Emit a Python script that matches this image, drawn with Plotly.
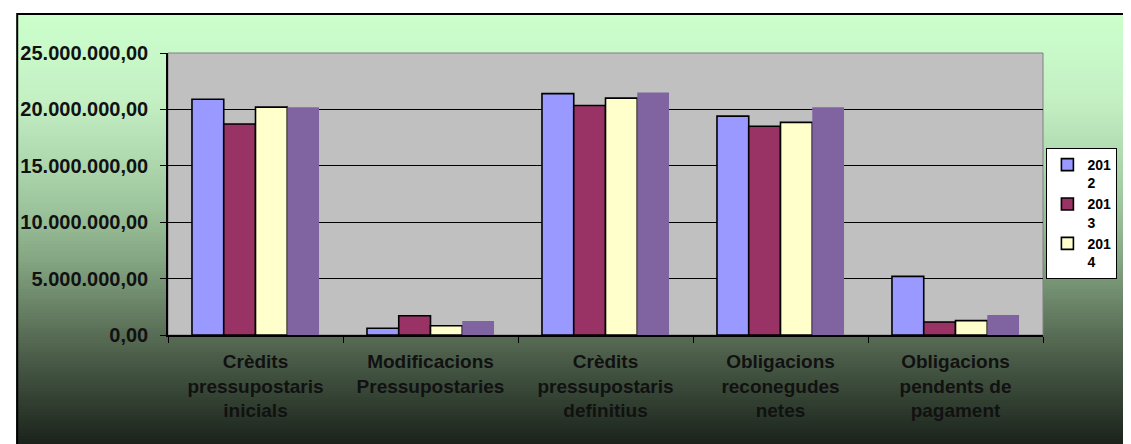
import plotly.graph_objects as go

categories = ["Crèdits<br>pressupostaris<br>inicials",
              "Modificacions<br>Pressupostaries",
              "Crèdits<br>pressupostaris<br>definitius",
              "Obligacions<br>reconegudes<br>netes",
              "Obligacions<br>pendents de<br>pagament"]
series_names = ["201<br>2", "201<br>3", "201<br>4", "2015"]
v2012 = [20.9e6, 0.6e6, 21.4e6, 19.4e6, 5.2e6]
v2013 = [18.7e6, 1.7e6, 20.35e6, 18.5e6, 1.15e6]
v2014 = [20.2e6, 0.82e6, 21.0e6, 18.85e6, 1.27e6]
v2015 = [20.2e6, 1.24e6, 21.5e6, 20.2e6, 1.77e6]
y_ticks = [0, 5e6, 10e6, 15e6, 20e6, 25e6]

colors = ["#9999FF", "#993366", "#FFFFCC", "#8064A2"]
OFF = 8  # page body margin
W, H = 1131 - OFF, 444 - OFF
L, T = 161 - OFF, 53 - OFF
PW, PH = 882, 282
R = W - L - PW
B = H - T - PH

def px_x(px):  # page pixel -> paper
    return (px - OFF - L) / PW

def px_y(py):
    return (T + PH - (py - OFF)) / PH

fig = go.Figure()
for i, (name, vals) in enumerate(zip(series_names, [v2012, v2013, v2014, v2015])):
    fig.add_trace(go.Bar(
        x=categories, y=vals, name=name,
        marker=dict(color=colors[i],
                    line=dict(color="black", width=1.6 if i < 3 else 0)),
        showlegend=(i < 3),
    ))

# background gradient (styling)
stops = [(13, (204, 255, 204)), (100, (196, 240, 196)), (200, (160, 200, 160)),
         (260, (132, 166, 130)), (335, (88, 108, 85)), (400, (50, 64, 50)),
         (450, (24, 30, 24))]

def col_at(py):
    for (y0, c0), (y1, c1) in zip(stops[:-1], stops[1:]):
        if y0 <= py <= y1:
            t = (py - y0) / (y1 - y0)
            return "rgb(%d,%d,%d)" % tuple(round(a + (b - a) * t) for a, b in zip(c0, c1))
    return "rgb(24,30,24)"

shapes = []
step = 3
py = 13
while py < 450:
    shapes.append(dict(type="rect", xref="paper", yref="paper", layer="below",
                       x0=px_x(8), x1=px_x(1140), y0=px_y(min(py + step + 0.5, 450)), y1=px_y(py),
                       fillcolor=col_at(py + step / 2), line=dict(width=0)))
    py += step
# frame
shapes.append(dict(type="rect", xref="paper", yref="paper", layer="below",
                   x0=px_x(9), x1=px_x(1140), y0=px_y(450), y1=px_y(14),
                   fillcolor="rgba(0,0,0,0)", line=dict(color="black", width=2)))
# plot area
shapes.append(dict(type="rect", xref="x domain", yref="y domain", layer="below",
                   x0=0, x1=1, y0=0, y1=1, fillcolor="#C0C0C0",
                   line=dict(color="#808080", width=1)))

font_family = "Liberation Sans, Arial, sans-serif"
fig.update_layout(
    width=W, height=H,
    margin=dict(l=L, r=R, t=T, b=B, pad=0),
    paper_bgcolor="white",
    plot_bgcolor="#C0C0C0",
    barmode="group",
    bargap=0.274,
    bargroupgap=0,
    separators=",.",
    shapes=shapes,
    font=dict(family=font_family, color="black"),
    legend=dict(x=px_x(1118), y=px_y(148), xanchor="right", yanchor="top",
                bgcolor="white", bordercolor="black", borderwidth=1,
                font=dict(size=14, family=font_family, color="black", weight="bold"),
                valign="top", itemwidth=30, tracegroupgap=0),
    xaxis=dict(showline=True, linecolor="black", linewidth=2,
               ticks="outside", ticklen=6, tickcolor="black", tickwidth=1,
               tickson="boundaries", ticklabelstandoff=8,
               tickfont=dict(size=19, family=font_family, color="#111111", weight="bold"),
               showgrid=False),
    yaxis=dict(range=[0, 25e6], tickvals=y_ticks, tickformat=",.2f",
               showline=True, linecolor="black", linewidth=1.5,
               ticks="outside", ticklen=6, tickcolor="black", tickwidth=1,
               showgrid=True, gridcolor="black", gridwidth=1,
               zeroline=False, ticklabelstandoff=8,
               tickfont=dict(size=20, family=font_family, color="#111111", weight="bold")),
)

fig.write_html("out.html")
